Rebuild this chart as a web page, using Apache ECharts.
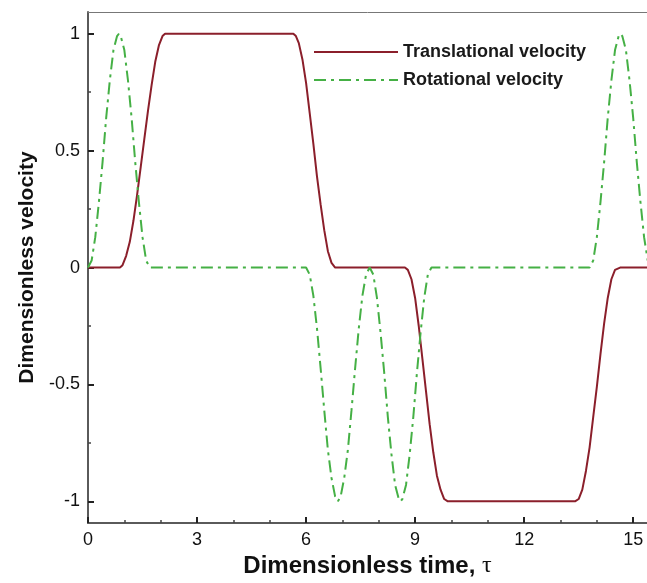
<!DOCTYPE html>
<html>
<head>
<meta charset="utf-8">
<script src="https://cdn.jsdelivr.net/npm/echarts@6/dist/echarts.min.js"></script>
<style>
  html, body { margin: 0; padding: 0; background: #fff; }
  #chart { width: 647px; height: 583px; }
</style>
</head>
<body>
<div id="chart"></div>
<script>
// [tau, velocity] points
const translational = [
  [0, 0], [0.88, 0], [0.95, 0.01], [1.05, 0.05], [1.15, 0.11], [1.25, 0.2], [1.35, 0.31],
  [1.45, 0.43], [1.55, 0.55], [1.65, 0.67], [1.75, 0.78], [1.85, 0.88], [1.95, 0.95],
  [2.05, 0.99], [2.12, 1],
  [5.65, 1], [5.72, 0.99], [5.8, 0.96], [5.9, 0.89], [6.0, 0.79], [6.1, 0.66], [6.2, 0.53],
  [6.3, 0.39], [6.4, 0.27], [6.5, 0.16], [6.6, 0.07], [6.7, 0.02], [6.8, 0],
  [8.72, 0], [8.8, -0.01], [8.9, -0.05], [9.0, -0.13], [9.1, -0.25], [9.2, -0.39], [9.3, -0.53],
  [9.4, -0.67], [9.5, -0.79], [9.6, -0.89], [9.7, -0.95], [9.8, -0.99], [9.9, -1],
  [13.4, -1], [13.5, -0.99], [13.6, -0.95], [13.7, -0.87], [13.8, -0.77], [13.9, -0.64],
  [14.0, -0.51], [14.1, -0.37], [14.2, -0.24], [14.3, -0.13], [14.4, -0.05], [14.5, -0.01],
  [14.64, 0], [15.4, 0]
]

const rotational = [
  [0, 0], [0.1, 0.03], [0.2, 0.13], [0.3, 0.28], [0.4, 0.45], [0.5, 0.64], [0.6, 0.8],
  [0.7, 0.93], [0.8, 0.99], [0.85, 1], [0.9, 0.99], [1.0, 0.93], [1.1, 0.8], [1.2, 0.64],
  [1.3, 0.45], [1.4, 0.28], [1.5, 0.13], [1.6, 0.03], [1.7, 0],
  [6.0, 0], [6.1, -0.03], [6.2, -0.12], [6.3, -0.26], [6.4, -0.43], [6.5, -0.61], [6.6, -0.78],
  [6.7, -0.9], [6.8, -0.98], [6.875, -1], [6.95, -0.98], [7.05, -0.9], [7.15, -0.78],
  [7.25, -0.61], [7.35, -0.43], [7.45, -0.26], [7.55, -0.12], [7.65, -0.03], [7.75, 0],
  [7.85, -0.03], [7.95, -0.13], [8.05, -0.28], [8.15, -0.45], [8.25, -0.64], [8.35, -0.8],
  [8.45, -0.93], [8.55, -0.99], [8.6, -1], [8.65, -0.99], [8.75, -0.93], [8.85, -0.8],
  [8.95, -0.64], [9.05, -0.45], [9.15, -0.28], [9.25, -0.13], [9.35, -0.03], [9.45, 0],
  [13.8, 0], [13.9, 0.03], [14.0, 0.13], [14.1, 0.28], [14.2, 0.45], [14.3, 0.64], [14.4, 0.8],
  [14.5, 0.93], [14.6, 0.99], [14.65, 1], [14.7, 0.99], [14.8, 0.93], [14.9, 0.8], [15.0, 0.64],
  [15.1, 0.45], [15.2, 0.28], [15.3, 0.13], [15.4, 0.03]
]

const xTicks = [0, 3, 6, 9, 12, 15]
const xMinorTicks = [1, 2, 4, 5, 7, 8, 10, 11, 13, 14]
const yTicks = [-1, -0.5, 0, 0.5, 1]
const yMinorTicks = [-0.75, -0.25, 0.25, 0.75]

const font = '"Liberation Sans", Arial, Helvetica, sans-serif'
const axisGray = '#5a5a5a'
const xRange = { min: 0, max: 15.38 }
const yRange = { min: -1.093, max: 1.093 }

const chart = echarts.init(document.getElementById('chart'))

const option = {
  backgroundColor: '#fff',
  animation: false,
  textStyle: { fontFamily: font },
  grid: { left: 88, right: 0, top: 12, bottom: 55, containLabel: false },
  legend: {
    orient: 'vertical',
    left: 308,
    top: 38,
    itemWidth: 84,
    itemHeight: 14,
    itemGap: 10,
    itemStyle: { color: 'transparent', borderColor: 'transparent', borderWidth: 0, opacity: 0 },
    textStyle: { fontSize: 18, fontWeight: 'bold', color: '#1a1a1a', fontFamily: font },
    data: ['Translational velocity', 'Rotational velocity']
  },
  xAxis: [
    {
      type: 'value',
      ...xRange,
      position: 'bottom',
      name: 'Dimensionless time, {t|τ}',
      nameLocation: 'middle',
      nameGap: 30,
      nameTextStyle: {
        fontSize: 24,
        fontWeight: 'bold',
        color: '#111',
        fontFamily: font,
        rich: { t: { fontSize: 24, fontFamily: '"Liberation Serif", "DejaVu Serif", serif', fontWeight: 'normal', color: '#111' } }
      },
      axisLine: { onZero: false, lineStyle: { color: axisGray, width: 2 } },
      axisTick: { inside: true, length: 6, customValues: xTicks, lineStyle: { color: '#222', width: 2 } },
      axisLabel: { customValues: xTicks, fontSize: 18, color: '#111', margin: 8, fontFamily: font },
      splitLine: { show: false }
    },
    {
      type: 'value',
      ...xRange,
      position: 'bottom',
      axisLine: { show: false, onZero: false },
      axisTick: { inside: true, length: 3, customValues: xMinorTicks, lineStyle: { color: '#444', width: 1.5 } },
      axisLabel: { show: false },
      splitLine: { show: false }
    },
    {
      type: 'value',
      ...xRange,
      position: 'top',
      axisLine: { onZero: false, lineStyle: { color: '#777', width: 1 } },
      axisTick: { show: false },
      axisLabel: { show: false },
      splitLine: { show: false }
    }
  ],
  yAxis: [
    {
      type: 'value',
      ...yRange,
      position: 'left',
      name: 'Dimensionless velocity',
      nameLocation: 'middle',
      nameGap: 44,
      nameTextStyle: { fontSize: 21, fontWeight: 'bold', color: '#111', fontFamily: font },
      axisLine: { onZero: false, lineStyle: { color: axisGray, width: 2 } },
      axisTick: { inside: true, length: 6, customValues: yTicks, lineStyle: { color: '#222', width: 2 } },
      axisLabel: { customValues: yTicks, fontSize: 18, color: '#111', margin: 8, fontFamily: font },
      splitLine: { show: false }
    },
    {
      type: 'value',
      ...yRange,
      position: 'left',
      axisLine: { show: false, onZero: false },
      axisTick: { inside: true, length: 3, customValues: yMinorTicks, lineStyle: { color: '#444', width: 1.5 } },
      axisLabel: { show: false },
      splitLine: { show: false }
    }
  ],
  series: [
    {
      name: 'Translational velocity',
      type: 'line',
      data: translational,
      symbol: 'none',
      color: '#8b1f2b',
      lineStyle: { color: '#8b1f2b', width: 2 }
    },
    {
      name: 'Rotational velocity',
      type: 'line',
      data: rotational,
      symbol: 'none',
      color: '#45b045',
      lineStyle: { color: '#45b045', width: 2, type: [12, 5, 3, 5] }
    }
  ]
}

chart.setOption(option)
</script>
</body>
</html>
